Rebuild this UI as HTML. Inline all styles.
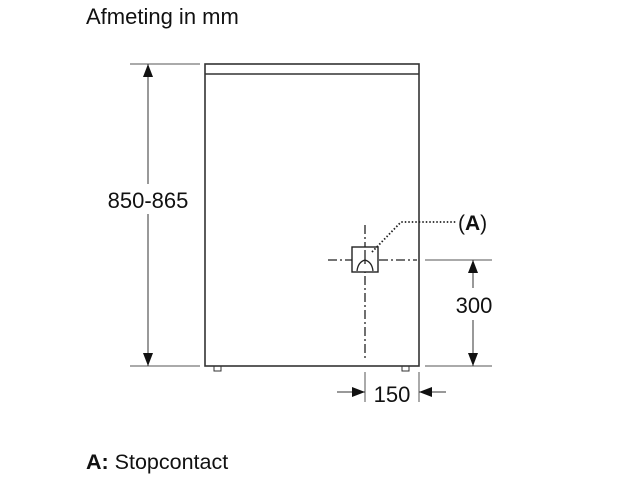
<!DOCTYPE html>
<html><head><meta charset="utf-8"><style>
html,body{margin:0;padding:0;background:#fff;}
svg{display:block;font-family:"Liberation Sans",Arial,sans-serif;}
</style></head><body>
<svg width="640" height="480" viewBox="0 0 640 480" xmlns="http://www.w3.org/2000/svg">
<text x="86" y="24" font-size="22" fill="#111">Afmeting in mm</text>
<!-- cabinet -->
<rect x="205" y="64" width="214" height="302" fill="none" stroke="#333" stroke-width="1.6"/>
<line x1="205" y1="74" x2="419" y2="74" stroke="#333" stroke-width="1.6"/>
<rect x="214" y="366" width="7" height="5" fill="none" stroke="#333" stroke-width="1"/>
<rect x="402" y="366" width="7" height="5" fill="none" stroke="#333" stroke-width="1"/>
<!-- left dimension -->
<line x1="130" y1="64" x2="200" y2="64" stroke="#555" stroke-width="1"/>
<line x1="130" y1="366" x2="200" y2="366" stroke="#555" stroke-width="1"/>
<line x1="148" y1="64" x2="148" y2="366" stroke="#333" stroke-width="1"/>
<polygon points="148,64 143,77 153,77" fill="#111"/>
<polygon points="148,366 143,353 153,353" fill="#111"/>
<rect x="102" y="184" width="92" height="30" fill="#fff"/>
<text x="148" y="208" font-size="22" text-anchor="middle" fill="#111">850-865</text>
<!-- socket center lines -->
<line x1="328" y1="260" x2="417" y2="260" stroke="#222" stroke-width="1.3" stroke-dasharray="9,3,2,3"/>
<line x1="365" y1="225" x2="365" y2="358" stroke="#222" stroke-width="1.3" stroke-dasharray="9,3,2,3"/>
<rect x="352" y="247" width="26" height="25" fill="#fff" stroke="#222" stroke-width="1.4"/>
<path d="M357,271 Q358,262 365,260 Q372,262 373,271" fill="none" stroke="#222" stroke-width="1.3"/>
<line x1="365" y1="250" x2="365" y2="264" stroke="#222" stroke-width="1.3"/>
<polyline points="372,252 401,222 456,222" fill="none" stroke="#222" stroke-width="1.8" stroke-dasharray="1.5,2"/>
<text x="458" y="230" font-size="21" fill="#111">(<tspan font-weight="bold">A</tspan>)</text>
<!-- right dimension -->
<line x1="425" y1="260" x2="492" y2="260" stroke="#555" stroke-width="1"/>
<line x1="425" y1="366" x2="492" y2="366" stroke="#555" stroke-width="1"/>
<line x1="473" y1="260" x2="473" y2="366" stroke="#333" stroke-width="1"/>
<polygon points="473,260 468,273 478,273" fill="#111"/>
<polygon points="473,366 468,353 478,353" fill="#111"/>
<rect x="450" y="288" width="48" height="32" fill="#fff"/>
<text x="474" y="313" font-size="22" text-anchor="middle" fill="#111">300</text>
<!-- bottom dimension -->
<line x1="365" y1="372" x2="365" y2="402" stroke="#555" stroke-width="1"/>
<line x1="419" y1="372" x2="419" y2="402" stroke="#555" stroke-width="1"/>
<line x1="337" y1="392" x2="365" y2="392" stroke="#333" stroke-width="1"/>
<polygon points="365,392 352,387 352,397" fill="#111"/>
<line x1="419" y1="392" x2="446" y2="392" stroke="#333" stroke-width="1"/>
<polygon points="419,392 432,387 432,397" fill="#111"/>
<text x="392" y="402" font-size="22" text-anchor="middle" fill="#111">150</text>
<text x="86" y="469" font-size="21.5" fill="#111"><tspan font-weight="bold">A:</tspan> Stopcontact</text>
</svg>
</body></html>
